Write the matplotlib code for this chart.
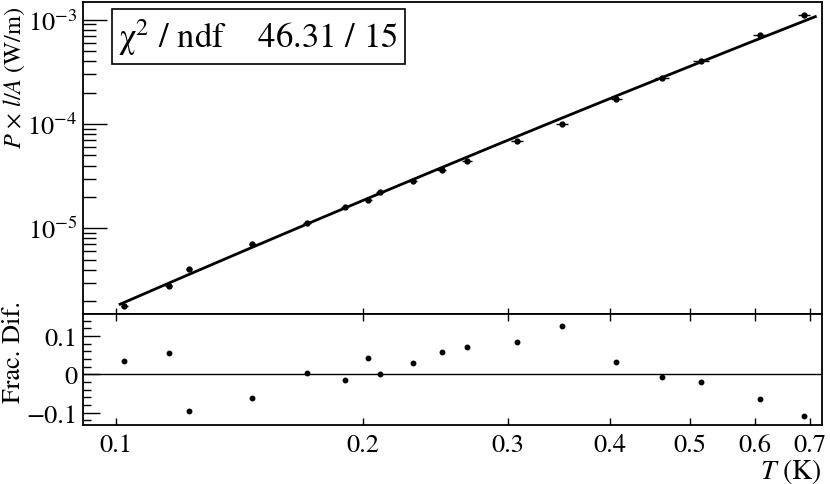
import numpy as np
import matplotlib
matplotlib.use("Agg")
import matplotlib.pyplot as plt
from matplotlib.ticker import LogLocator, FixedLocator, MultipleLocator, NullLocator, NullFormatter

plt.rcParams['font.family'] = ['STIXGeneral', 'Liberation Serif', 'DejaVu Serif']
plt.rcParams['mathtext.fontset'] = 'stix'

# ---- data ----
T = [0.1023, 0.1158, 0.1226, 0.1465, 0.1708, 0.1898, 0.2026, 0.2097, 0.2297,
     0.2492, 0.2673, 0.3081, 0.3496, 0.4068, 0.4624, 0.5159, 0.6091, 0.6892]
T_err = [0.0010, 0.0011, 0.0010, 0.0015, 0.0018, 0.0020, 0.0022, 0.0024, 0.0028,
         0.0032, 0.0038, 0.0050, 0.0057, 0.0062, 0.0090, 0.0110, 0.0120, 0.0115]
P = [1.81e-6, 2.82e-6, 4.05e-6, 7.07e-6, 1.124e-5, 1.589e-5, 1.88e-5, 2.21e-5,
     2.86e-5, 3.62e-5, 4.45e-5, 6.92e-5, 1.00e-4, 1.755e-4, 2.76e-4, 4.02e-4,
     7.13e-4, 1.117e-3]
frac_dif = [0.035, 0.055, -0.096, -0.061, 0.003, -0.015, 0.042, 0.002, 0.030,
            0.057, 0.072, 0.084, 0.125, 0.031, -0.007, -0.020, -0.063, -0.108]
x_ticks = [0.1, 0.2, 0.3, 0.4, 0.5, 0.6, 0.7]
x_tick_labels = ["0.1", "0.2", "0.3", "0.4", "0.5", "0.6", "0.7"]
chi2_text = "χ$^{2}$ / ndf    46.31 / 15"

Ta = np.array(T); Pa = np.array(P); Fa = np.array(frac_dif)
# fitted curve: model values implied by data and fractional difference (fit - data)/data
fit_vals = Pa * (1.0 + Fa)
coef = np.polyfit(np.log(Ta), np.log(fit_vals), 2)
tt = np.logspace(np.log10(0.1011), np.log10(0.711), 200)
pp = np.exp(np.polyval(coef, np.log(tt)))

W, H = 830, 485
fig = plt.figure(figsize=(W / 100, H / 100), dpi=100)
L, R = 83 / W, 822 / W
ax = fig.add_axes([L, (H - 315) / H, R - L, (315 - 3) / H])
axr = fig.add_axes([L, (H - 425.7) / H, R - L, (425.7 - 315) / H])

xlim = (0.0911, 0.7244)
for a in (ax, axr):
    a.set_xscale('log')
    a.set_xlim(*xlim)
    for s in a.spines.values():
        s.set_linewidth(1.3)
    a.xaxis.set_major_locator(FixedLocator(x_ticks))
    a.xaxis.set_minor_locator(NullLocator())
    a.xaxis.set_minor_formatter(NullFormatter())

# top panel
ax.errorbar(Ta, Pa, xerr=T_err, fmt='o', color='black', ms=3.5, elinewidth=1.0,
            capsize=0, zorder=3)
ax.plot(tt, pp, color='black', lw=2.0, zorder=2)
ax.set_yscale('log')
ax.set_ylim(1.507e-6, 1.479e-3)
ax.yaxis.set_major_locator(LogLocator(base=10, numticks=10))
ax.yaxis.set_minor_locator(LogLocator(base=10, subs=np.arange(2, 10), numticks=20))
ax.yaxis.set_minor_formatter(NullFormatter())
ax.tick_params(axis='y', which='major', direction='in', length=17, width=1.0,
               labelsize=19, pad=4, right=False)
ax.tick_params(axis='y', which='minor', direction='in', length=9, width=1.0, right=False)
ax.tick_params(axis='x', which='major', direction='in', length=4, width=1.0,
               labelbottom=False, top=False)
ax.set_ylabel(r"$P$ × $l/A$ (W/m)", fontsize=17.5, loc='top')
ax.yaxis.set_label_coords(-0.076, 0.99)

ax.text(0.048, 0.955, chi2_text, transform=ax.transAxes, fontsize=25,
        ha='left', va='top',
        bbox=dict(boxstyle='square,pad=0.2', fc='white', ec='black', lw=1.2))

# residual panel
axr.plot(Ta, Fa, 'o', color='black', ms=3.2)
axr.axhline(0, color='black', lw=1.0)
axr.set_ylim(-0.131, 0.157)
axr.yaxis.set_major_locator(FixedLocator([-0.1, 0.0, 0.1]))
axr.yaxis.set_minor_locator(MultipleLocator(0.02))
axr.set_yticklabels(["\u22120.1", "0", "0.1"])
axr.tick_params(axis='y', which='major', direction='in', length=12, width=1.0,
                labelsize=19, pad=4)
axr.tick_params(axis='y', which='minor', direction='in', length=6, width=1.0)
axr.tick_params(axis='x', which='major', direction='in', length=5, width=1.0,
                top=True, labelsize=19, pad=6)
axr.set_xticklabels(x_tick_labels)
axr.set_ylabel("Frac. Dif.", fontsize=19)
axr.yaxis.set_label_coords(-0.077, 0.666)
axr.set_xlabel(r"$T$ (K)", fontsize=20, loc='right', labelpad=-1)

fig.savefig("out.png", dpi=100)
